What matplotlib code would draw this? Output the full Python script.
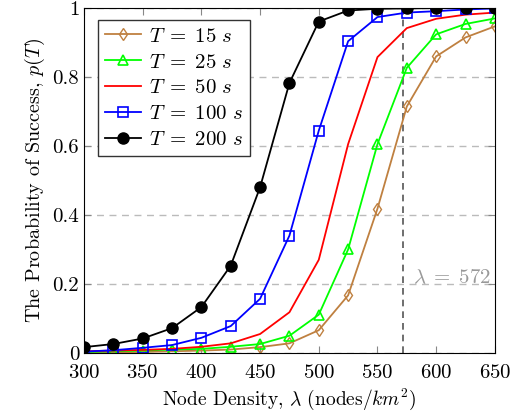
import numpy as np
import matplotlib.pyplot as plt

plt.rcParams['font.family'] = 'cmr10'
plt.rcParams['mathtext.fontset'] = 'cm'
plt.rcParams['axes.formatter.use_mathtext'] = True

lam = [300, 325, 350, 375, 400, 425, 450, 475, 500, 525, 550, 575, 600, 625, 650]

p15 = [0.001, 0.002, 0.003, 0.005, 0.007, 0.010, 0.017, 0.028, 0.066, 0.167, 0.418, 0.714, 0.859, 0.914, 0.946]
p25 = [0.003, 0.005, 0.007, 0.010, 0.012, 0.018, 0.026, 0.050, 0.111, 0.300, 0.605, 0.826, 0.923, 0.953, 0.969]
p50 = [0.005, 0.007, 0.009, 0.012, 0.018, 0.028, 0.055, 0.118, 0.270, 0.605, 0.857, 0.941, 0.968, 0.980, 0.986]
p100 = [0.004, 0.008, 0.015, 0.023, 0.044, 0.078, 0.157, 0.340, 0.644, 0.903, 0.973, 0.986, 0.990, 0.995, 0.998]
p200 = [0.017, 0.026, 0.042, 0.072, 0.133, 0.253, 0.480, 0.782, 0.960, 0.992, 0.997, 0.998, 0.999, 1.0, 1.0]

brown = '#BF8040'

fig = plt.figure(figsize=(5.27, 4.18), dpi=100)
ax = fig.add_axes([0.1594, 0.1555, 0.7796, 0.826])

ax.plot(lam, p15, color=brown, marker='d', ms=6, mfc='none', mew=1.0, lw=1.3, label=r'$T\;=\;15\ s$')
ax.plot(lam, p25, color='#00FF00', marker='^', ms=7, mfc='none', mew=1.2, lw=1.3, label=r'$T\;=\;25\ s$')
ax.plot(lam, p50, color='red', lw=1.3, label=r'$T\;=\;50\ s$')
ax.plot(lam, p100, color='blue', marker='s', ms=7.5, mfc='none', mew=1.2, lw=1.3, label=r'$T\;=\;100\ s$')
ax.plot(lam, p200, color='black', marker='o', ms=8, lw=1.3, label=r'$T\;=\;200\ s$')

ax.axvline(572, color='#555555', ls=(0, (4, 3)), lw=1.2, zorder=1)
ax.text(580, 0.217, r'$\lambda\;=\;572$', color='#999999', fontsize=15, va='center')

ax.set_xlim(300, 650)
ax.set_ylim(0, 1)
ax.set_xticks([300, 350, 400, 450, 500, 550, 600, 650])
ax.set_yticks([0, 0.2, 0.4, 0.6, 0.8, 1])
ax.set_yticklabels(['0', '0.2', '0.4', '0.6', '0.8', '1'])
ax.yaxis.grid(True, color='#BBBBBB', ls=(0, (5, 4)), lw=1.0)
ax.set_axisbelow(True)
ax.tick_params(direction='in', top=True, right=True, labelsize=15, length=5, color='#888888')
ax.tick_params(axis='x', pad=8)

ax.set_xlabel(r'Node Density, $\lambda$ (nodes$/km^2$)', fontsize=14, labelpad=3)
ax.set_ylabel(r'The Probability of Success, $p(T)$', fontsize=14.5)

ax.legend(loc='upper left', bbox_to_anchor=(0.034, 0.965), borderaxespad=0, fontsize=15, fancybox=False,
          edgecolor='#333333', framealpha=1, handlelength=1.7, handletextpad=0.4,
          borderpad=0.35, labelspacing=0.35)

fig.savefig('out.png', dpi=100)
